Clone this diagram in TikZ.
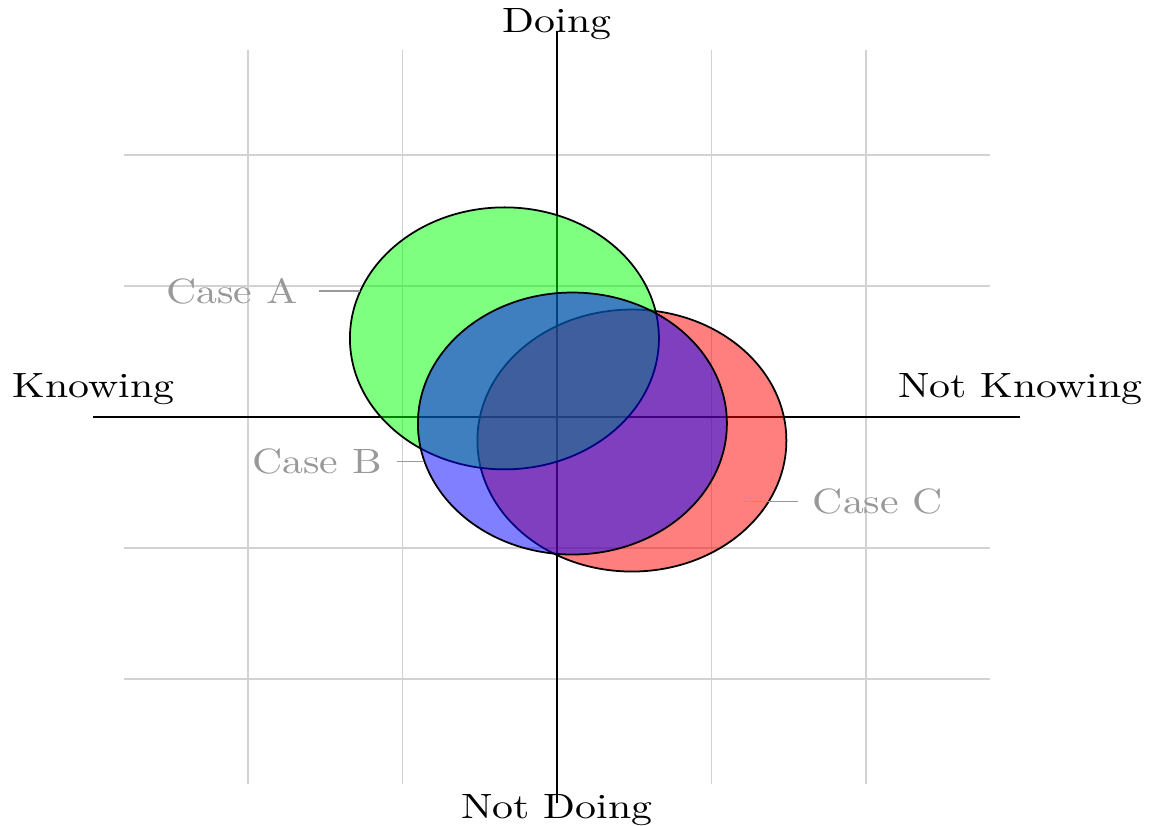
\documentclass[tikz,border=0pt]{standalone}

\begin{document}
\begin{tikzpicture}[x=1.545cm, y=1.31cm,
  axisname/.style={xscale=1.19},
  casename/.style={xscale=1.19, text=gray!80},
  caseline/.style={gray!80, thin},
  blob/.style={draw=black, line width=0.5pt, fill opacity=0.5}]
\useasboundingbox (-3.605,-3.122) rectangle (3.871,3.183);

  \draw[gray!35, thin, xstep=1.545cm, ystep=1.31cm] (-2.8,-2.8) grid (2.8,2.8);

  \coordinate (left) at (-3,0);
  \coordinate (right) at (3,0);
  \coordinate (top) at (0,2.95);
  \coordinate (bottom) at (0,-2.95);
  \draw[line width=0.6pt] (left) -- (right);
  \draw[line width=0.6pt] (bottom) -- (top);

  \draw[blob, fill=red] (0.485,-0.18) circle (1);
  \draw[blob, fill=green] (-0.34,0.6) circle (1);
  \draw[blob, fill=blue] (0.1,-0.05) circle (1);

  \node[axisname, above] (knowing) at (left) {Knowing};
  \node[axisname, above] (notknowing) at (right) {Not Knowing};
  \node[axisname] (doing) at (0,3) {Doing};
  \node[axisname] (notdoing) at (0,-3) {Not Doing};

  \node[casename] (caseA) at (-2.104,0.962) {Case A};
  \node[casename] (caseB) at (-1.553,-0.34) {Case B};
  \node[casename] (caseC) at (2.078,-0.645) {Case C};
  \coordinate (onA) at (-1.275,0.962);
  \coordinate (onB) at (-0.87,-0.34);
  \coordinate (inC) at (1.217,-0.645);
  \draw[caseline, shorten <=2pt] (caseA.east) -- (onA);
  \draw[caseline] (caseB.east) -- (onB);
  \draw[caseline] (inC) -- (caseC.west);

\end{tikzpicture}
\end{document}
